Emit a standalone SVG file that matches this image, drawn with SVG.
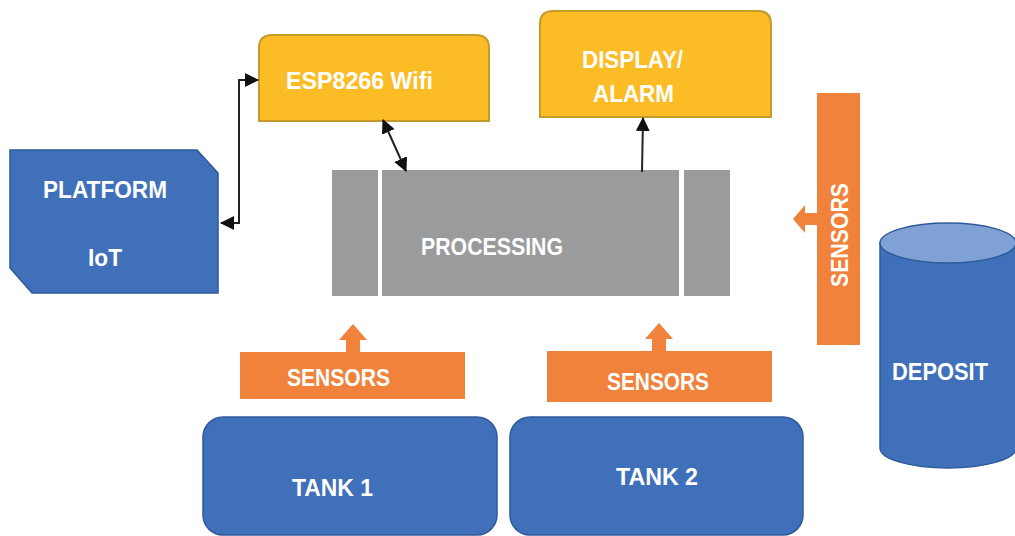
<svg xmlns="http://www.w3.org/2000/svg" width="1015" height="536" viewBox="0 0 1015 536">
<defs>
<style>
.lbl{font-family:"Liberation Sans","Open Sans",sans-serif;font-weight:bold;font-size:24px;fill:#ffffff}
.blue{fill:#3F70B9;stroke:#2F5A9A;stroke-width:1.5}
.yel{fill:#FBBC26;stroke:#C49A2A;stroke-width:2}
.gray{fill:#999B9C}
.org{fill:#F0823B}
.conn{fill:none;stroke:#222;stroke-width:2}
</style>
<marker id="ah" markerUnits="userSpaceOnUse" markerWidth="14" markerHeight="14" viewBox="0 0 14 14" refX="13" refY="7" orient="auto-start-reverse">
<path d="M0,0 L14,7 L0,14 z" fill="#111"/>
</marker>
</defs>
<rect width="1015" height="536" fill="#ffffff"/>

<g id="esp">
<path class="yel" d="M259,121 V48 Q259,35 272,35 H476 Q489,35 489,48 V121 Z"/>
<text class="lbl" x="286" y="89" textLength="147" lengthAdjust="spacingAndGlyphs">ESP8266 Wifi</text>
</g>

<g id="display">
<path class="yel" d="M540,117 V24 Q540,11 553,11 H758 Q771,11 771,24 V117 Z"/>
<text class="lbl" x="582" y="68" textLength="101" lengthAdjust="spacingAndGlyphs">DISPLAY/</text>
<text class="lbl" x="593" y="102" textLength="81" lengthAdjust="spacingAndGlyphs">ALARM</text>
</g>

<g id="platform">
<path class="blue" d="M10,150 H197 L218,173 V293 H32 L10,268 Z"/>
<text class="lbl" x="43" y="198" textLength="124" lengthAdjust="spacingAndGlyphs">PLATFORM</text>
<text class="lbl" x="88" y="266" textLength="34" lengthAdjust="spacingAndGlyphs">IoT</text>
</g>

<g id="processing">
<rect class="gray" x="332" y="170" width="46" height="126"/>
<rect class="gray" x="382" y="170" width="297" height="126"/>
<rect class="gray" x="684" y="170" width="46" height="126"/>
<text class="lbl" x="421" y="255" textLength="142" lengthAdjust="spacingAndGlyphs">PROCESSING</text>
</g>

<g id="sensors1">
<polygon class="org" points="240,352 346,352 346,340 339,340 353,324 367,340 360,340 360,352 465,352 465,399 240,399"/>
<text class="lbl" x="287" y="386" textLength="103" lengthAdjust="spacingAndGlyphs">SENSORS</text>
</g>

<g id="sensors2">
<polygon class="org" points="547,351 652,351 652,339 645,339 659,323 673,339 666,339 666,351 772,351 772,402 547,402"/>
<text class="lbl" x="607" y="390" textLength="102" lengthAdjust="spacingAndGlyphs">SENSORS</text>
</g>

<g id="sensors3">
<polygon class="org" points="817,93 860,93 860,345 817,345 817,225 805,225 805,233 793,219 805,205 805,213 817,213"/>
<text class="lbl" transform="translate(848,287) rotate(-90)" x="0" y="0" textLength="104" lengthAdjust="spacingAndGlyphs">SENSORS</text>
</g>

<g id="tank1">
<rect class="blue" x="203" y="417" width="294" height="118" rx="20"/>
<text class="lbl" x="292" y="496" textLength="81" lengthAdjust="spacingAndGlyphs">TANK 1</text>
</g>

<g id="tank2">
<rect class="blue" x="510" y="417" width="293" height="118" rx="20"/>
<text class="lbl" x="616" y="485" textLength="82" lengthAdjust="spacingAndGlyphs">TANK 2</text>
</g>

<g id="deposit">
<path class="blue" d="M880,243 V448 A68,20 0 0 0 1016,448 V243 Z"/>
<ellipse cx="948" cy="243" rx="68" ry="20" fill="#7FA1D6" stroke="#2F5A9A" stroke-width="1.5"/>
<text class="lbl" x="892" y="380" textLength="96" lengthAdjust="spacingAndGlyphs">DEPOSIT</text>
</g>

<g id="connectors">
<path class="conn" d="M221,223 H239 V80 H258" marker-start="url(#ah)" marker-end="url(#ah)"/>
<line class="conn" x1="383" y1="120" x2="406" y2="171" marker-start="url(#ah)" marker-end="url(#ah)"/>
<line class="conn" x1="642" y1="172" x2="643" y2="118" marker-end="url(#ah)"/>
</g>
</svg>
